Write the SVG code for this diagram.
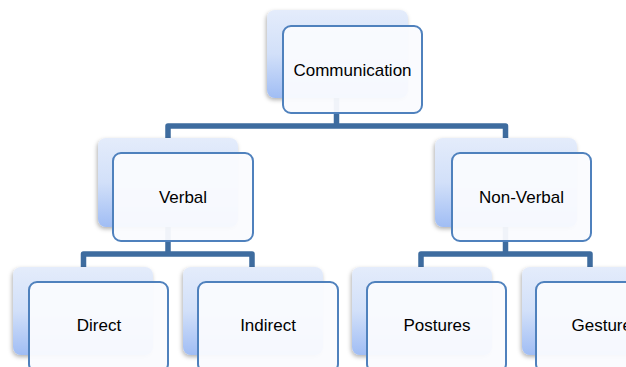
<svg xmlns="http://www.w3.org/2000/svg" width="626" height="367" viewBox="0 0 626 367">
<defs>
<linearGradient id="bg" x1="0" y1="0" x2="0" y2="1">
<stop offset="0" stop-color="#E4ECFB"/>
<stop offset="0.5" stop-color="#D2E0F9"/>
<stop offset="1" stop-color="#A0BDF4"/>
</linearGradient>
<filter id="sh" x="-10%" y="-10%" width="120%" height="125%">
<feDropShadow dx="-1" dy="2" stdDeviation="2" flood-color="#000" flood-opacity="0.3"/>
</filter>
</defs>
<style>
.back{fill:url(#bg);filter:url(#sh)}
.front{fill:#FAFBFE;fill-opacity:0.95;stroke:#4F81BD;stroke-width:2}
.conn{fill:none;stroke:#3E6C9F;stroke-width:5.5;stroke-linejoin:round}
.lbl{font-family:"Liberation Sans",Arial,sans-serif;font-size:17px;fill:#000;text-anchor:middle}
</style>
<rect width="626" height="367" fill="#fff"/>
<g id="connectors">
<path class="conn" d="M336.5,69 V126 M168,153 V126 H505.5 V153"/>
<path class="conn" d="M168,197 V254 M83.5,280 V254 H252 V280"/>
<path class="conn" d="M505.5,197 V254 M421,280 V254 H590 V280"/>
</g>
<g id="communication">
<rect class="back" x="267" y="10" width="141" height="88" rx="8"/>
<rect class="front" x="283" y="26" width="139" height="87" rx="8"/>
<text class="lbl" x="352.5" y="75.5">Communication</text>
</g>
<g id="verbal">
<rect class="back" x="98" y="138" width="140" height="89" rx="8"/>
<rect class="front" x="113" y="153" width="140" height="88" rx="8"/>
<text class="lbl" x="183" y="203">Verbal</text>
</g>
<g id="nonverbal">
<rect class="back" x="435" y="138" width="142" height="89" rx="8"/>
<rect class="front" x="452" y="153" width="139" height="88" rx="8"/>
<text class="lbl" x="521.5" y="203">Non-Verbal</text>
</g>
<g id="direct">
<rect class="back" x="13" y="267" width="140" height="88" rx="8"/>
<rect class="front" x="29" y="282" width="139" height="90" rx="8"/>
<text class="lbl" x="99" y="331">Direct</text>
</g>
<g id="indirect">
<rect class="back" x="183" y="267" width="140" height="88" rx="8"/>
<rect class="front" x="198" y="282" width="140" height="90" rx="8"/>
<text class="lbl" x="268" y="331">Indirect</text>
</g>
<g id="postures">
<rect class="back" x="352" y="267" width="140" height="88" rx="8"/>
<rect class="front" x="367" y="282" width="139" height="90" rx="8"/>
<text class="lbl" x="437" y="331">Postures</text>
</g>
<g id="gestures">
<rect class="back" x="522" y="267" width="140" height="88" rx="8"/>
<rect class="front" x="536" y="282" width="139" height="90" rx="8"/>
<text class="lbl" x="606" y="331">Gestures</text>
</g>
</svg>
